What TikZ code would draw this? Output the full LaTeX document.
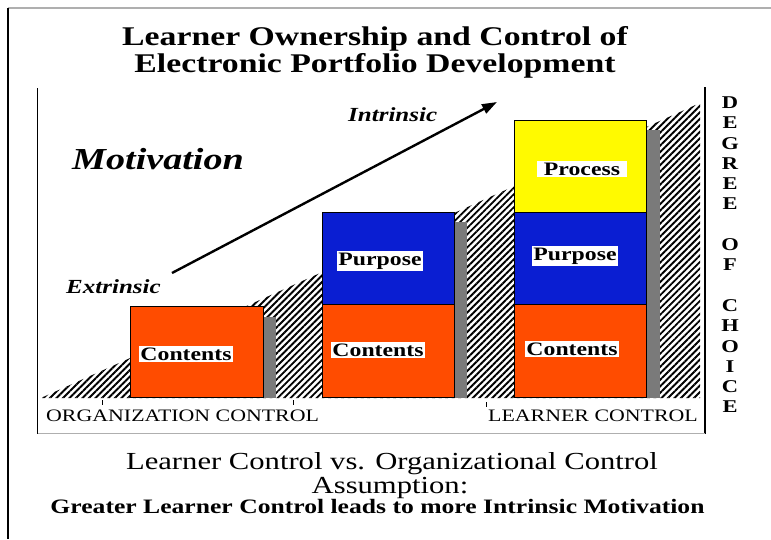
\documentclass[tikz,border=0pt]{standalone}
\usepackage{fontspec}
\setmainfont{Liberation Serif}[FakeStretch=1.25]
\usetikzlibrary{patterns.meta,arrows.meta}
\definecolor{boxorange}{RGB}{255,76,0}
\definecolor{boxblue}{RGB}{10,30,210}
\definecolor{boxyellow}{RGB}{255,250,0}
\definecolor{shadowgray}{RGB}{122,122,122}
\definecolor{framegray}{RGB}{175,175,175}
\begin{document}
\begin{tikzpicture}[x=1pt,y=-1pt,
  stackbox/.style={draw=black, line width=0.8pt, minimum width=132pt, inner sep=0pt, anchor=south west},
  lbl/.style={fill=white, inner sep=1.5pt, font=\fontsize{19}{19}\selectfont\bfseries},
  shadow/.style={fill=shadowgray, draw=none},
  hatch/.style={pattern={Lines[angle=45,distance=4.6pt,line width=1.9pt]}, pattern color=black},
  titletext/.style={font=\fontsize{27}{27}\selectfont\bfseries, inner sep=0pt, anchor=base},
  axistext/.style={font=\fontsize{17.5}{17.5}\selectfont, inner sep=0pt, anchor=base west},
  foottext/.style={font=\fontsize{24.5}{24.5}\selectfont, inner sep=0pt, anchor=base},
  motivtext/.style={font=\fontsize{20}{20}\selectfont\bfseries\itshape, inner sep=0pt, anchor=base west},
  trend/.style={line width=2.4pt, -{Triangle[length=15pt,width=10pt]}},
  frame/.style={line width=1.2pt, black},
  tick/.style={line width=0.8pt, black}
]
\useasboundingbox (0,0) rectangle (771,539);

% outer frame
\draw[framegray, line width=1.5pt] (8,8) -- (771,8);
\draw[frame] (8,8) -- (8,539);

% titles
\node[titletext] (t1) at (375,45.7) {Learner Ownership and Control of};
\node[titletext] (t2) at (375,72) {Electronic Portfolio Development};

% inner frame
\draw[frame] (37.5,88) -- (37.5,434);
\draw[frame] (705,87) -- (705,434);
\draw[framegray, line width=1pt] (37.5,433.5) -- (705,433.5);

% hatched wedge
\fill[hatch] (42,397.5) -- (700,103) -- (700,398) -- (42,398) -- cycle;

% shadows
\fill[shadow] (263,317) rectangle (276,398);
\fill[shadow] (454,222) rectangle (467,398);
\fill[shadow] (646,130) rectangle (660,398);

% column 1
\node[stackbox, fill=boxorange, minimum width=133pt, minimum height=91pt] (c1) at (130,398) {};
% column 2
\node[stackbox, fill=boxorange, minimum height=93pt] (c2) at (322,398) {};
\node[stackbox, fill=boxblue, minimum height=92pt] (p2) at (322,305) {};
% column 3
\node[stackbox, fill=boxorange, minimum height=93pt] (c3) at (514,398) {};
\node[stackbox, fill=boxblue, minimum height=92pt] (p3) at (514,305) {};
\node[stackbox, fill=boxyellow, minimum height=92pt] (r3) at (514,213) {};

% labels
\node[lbl] (lc1) at (186,354) {Contents};
\node[lbl] (lc2) at (378,350) {Contents};
\node[lbl] (lp2) at (380,261) {Purpose};
\node[lbl] (lc3) at (572,349) {Contents};
\node[lbl] (lp3) at (575,256) {Purpose};
\node[lbl, inner xsep=7pt] (lr3) at (582,169) {Process};

% motivation
\node[font=\fontsize{30.5}{30.5}\selectfont\bfseries\itshape, inner sep=0pt, anchor=base west] (mot) at (72,169) {Motivation};
\node[motivtext] (intr) at (348,121) {Intrinsic};
\node[motivtext] (extr) at (66,293) {Extrinsic};
\coordinate (as) at (172,273);
\coordinate (ae) at (497,102);
\draw[trend] (as) -- (ae);

% axis labels
\node[axistext] (org) at (46,421) {ORGANIZATION CONTROL};
\node[axistext] (lrn) at (488,421) {LEARNER CONTROL};
\draw[tick] (102,400) -- (102,405);
\draw[tick] (293,400) -- (293,405);
\draw[tick] (486,402) -- (486,407);

% degree of choice
\node[font=\fontsize{18}{20.3}\selectfont\bfseries, align=center, inner sep=0pt, anchor=north] (doc) at (730,96.5)
  {D\\E\\G\\R\\E\\E\\[20.3pt]O\\F\\[20.3pt]C\\H\\O\\I\\C\\E};

% footer
\node[foottext] (f1) at (392,469) {Learner Control vs. Organizational Control};
\node[foottext] (f2) at (390,493) {Assumption:};
\node[font=\fontsize{20.5}{20.5}\selectfont\bfseries, inner sep=0pt, anchor=base] (f3) at (377.5,513) {Greater Learner Control leads to more Intrinsic Motivation};
\end{tikzpicture}
\end{document}
